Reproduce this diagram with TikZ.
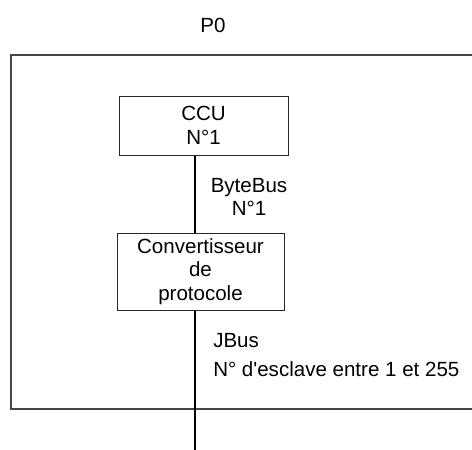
\documentclass[tikz,border=0pt]{standalone}
\usepackage{fontspec}
\setmainfont{Liberation Sans}[Ligatures=TeXOff]
\usepackage{tikz}
\usetikzlibrary{calc,positioning}
\definecolor{frameGray}{RGB}{70,70,70}
\definecolor{boxGray}{RGB}{40,40,40}

\begin{document}
\begin{tikzpicture}[x=0.75pt,y=-0.75pt,
    font=\fontsize{15.4}{17.6}\selectfont,
    unitbox/.style={draw=boxGray, line width=0.75pt, align=center, inner sep=0pt},
    buslabel/.style={align=center, inner sep=0pt},
    busline/.style={line width=1.5pt}]
    \useasboundingbox (0,0) rectangle (472,450);

    % frame of P0, open to the right
    \node (title) at (213,25) {P0};
    \draw[frameGray, line width=0.9pt] (472,55) -- (11,55) -- (11,409) -- (472,409);

    % units
    \node[unitbox, minimum width=126.75pt, minimum height=44.25pt] (ccu) at (203.5,125.5) {CCU\\N°1};
    \node[unitbox, minimum width=125.25pt, minimum height=57.75pt] (conv) at (200.5,271.5) {Convertisseur\\de\\protocole};

    % buses
    \coordinate (busend) at (195,450);
    \draw[busline] (ccu.south -| busend) -- (conv.north -| busend);
    \draw[busline] (conv.south -| busend) -- (busend);

    % labels
    \node[buslabel] (bytebus) at (249,197) {ByteBus\\N°1};
    \node[buslabel, anchor=west] (jbus) at (213,341) {JBus};
    \node[buslabel, anchor=west] (slave) at (213,369) {N° d'esclave entre 1 et 255};
\end{tikzpicture}
\end{document}
